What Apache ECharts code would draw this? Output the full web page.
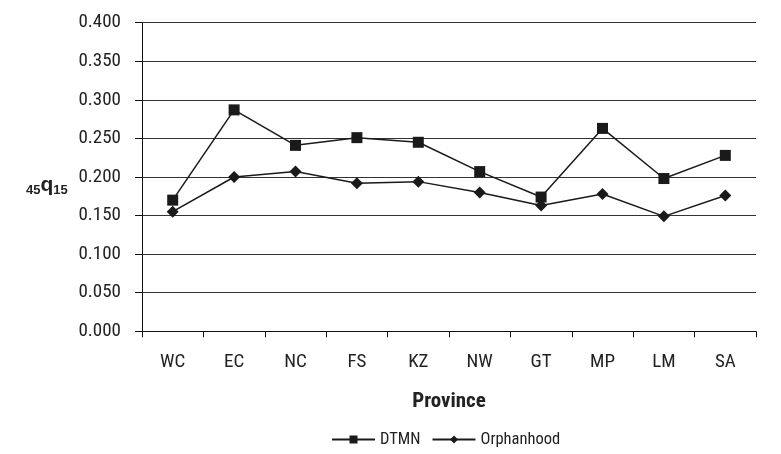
<!DOCTYPE html>
<html><head><meta charset="utf-8">
<script src="https://cdn.jsdelivr.net/npm/echarts@6/dist/echarts.min.js"></script>
<style>html,body{margin:0;padding:0;background:#fff}#c{width:781px;height:454px}</style>
</head><body><div id="c"></div>
<script>
const categories = ['WC','EC','NC','FS','KZ','NW','GT','MP','LM','SA'];
const dtmn = [0.170,0.287,0.241,0.251,0.245,0.207,0.174,0.263,0.198,0.228];
const orphanhood = [0.155,0.200,0.207,0.192,0.194,0.180,0.163,0.178,0.149,0.176];
const yTicks = [0,0.05,0.1,0.15,0.2,0.25,0.3,0.35,0.4];

const FONT = '"Roboto Condensed","Liberation Sans",sans-serif';
const chart = echarts.init(document.getElementById('c'), null, {renderer:'canvas'});
chart.setOption({
  animation:false,
  backgroundColor:'#fff',
  grid:{left:142,right:25,top:22.7,bottom:122.7,containLabel:false},
  xAxis:{
    type:'category', data:categories, boundaryGap:true,
    axisLine:{lineStyle:{color:'#111',width:1}},
    axisTick:{show:true,length:6,lineStyle:{color:'#111'}},
    axisLabel:{fontFamily:FONT,fontSize:19,color:'#222',margin:21},
    name:'Province', nameLocation:'middle', nameGap:60,
    nameTextStyle:{fontFamily:FONT,fontSize:21,fontWeight:'bold',color:'#222'}
  },
  yAxis:{
    type:'value', min:yTicks[0], max:yTicks[yTicks.length-1], interval:0.05,
    axisLine:{show:true,lineStyle:{color:'#111',width:1}},
    axisTick:{show:true,length:7,lineStyle:{color:'#111'}},
    axisLabel:{fontFamily:FONT,fontSize:19,color:'#222',margin:21,
      formatter:v=>v.toFixed(3)},
    splitLine:{show:true,lineStyle:{color:'#333',width:1}}
  },
  legend:{
    left:326, top:426, itemWidth:43, itemHeight:10, itemGap:11,
    textStyle:{fontFamily:FONT,fontSize:16.5,color:'#222'},
    data:['DTMN','Orphanhood']
  },
  graphic:[{
    type:'text', left:26, top:175,
    style:{
      text:'{s|45}{q|q}{s|15}',
      rich:{
        s:{fontFamily:'"Liberation Sans",sans-serif',fontSize:13,fontWeight:'bold',fill:'#222',verticalAlign:'bottom',padding:[9,0,0,0]},
        q:{fontFamily:'"Liberation Sans",sans-serif',fontSize:21,fontWeight:'bold',fill:'#222'}
      }
    }
  }],
  series:[
    {name:'DTMN',type:'line',data:dtmn,symbol:'rect',symbolSize:11,
     lineStyle:{color:'#1a1a1a',width:1.5},itemStyle:{color:'#1a1a1a'}},
    {name:'Orphanhood',type:'line',data:orphanhood,symbol:'diamond',symbolSize:12,
     lineStyle:{color:'#1a1a1a',width:1.5},itemStyle:{color:'#1a1a1a'}}
  ]
});
</script></body></html>
